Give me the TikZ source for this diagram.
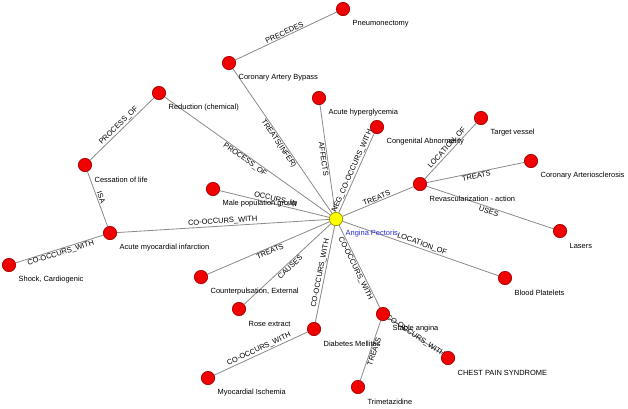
\documentclass[tikz,border=0pt]{standalone}
\usepackage{fontspec}
\setmainfont{Liberation Sans}
\usepackage{xcolor}
\usepackage{tikz}
\usetikzlibrary{positioning,calc,backgrounds}
\definecolor{rojo}{HTML}{F00000}
\definecolor{rojoborde}{HTML}{A00000}
\definecolor{amarillo}{HTML}{FFFF00}
\definecolor{amarilloborde}{HTML}{8C8C00}
\definecolor{gris}{HTML}{8A8A8A}
\definecolor{azul}{HTML}{2A2AD8}
\tikzset{
  nodo/.style={circle,draw=rojoborde,fill=rojo,line width=0.5pt,minimum size=10pt,inner sep=0pt,label distance=0pt},
  nodocentral/.style={nodo,draw=amarilloborde,fill=amarillo},
  rotulo/.style={font=\fontsize{5.6}{6.5}\selectfont,inner sep=0pt,xshift=1.8pt,yshift=-10.9pt},
  arista/.style={draw=gris,line width=0.6pt},
  etiqueta/.style={font=\fontsize{5.6}{6.5}\selectfont,sloped,midway,inner sep=0.6pt},
  encima/.style={anchor=center},
}

\begin{document}
\begin{tikzpicture}[x=0.75pt,y=-0.75pt]
  \useasboundingbox (0,0) rectangle (628,408);
  % centro
  \node[nodocentral,label={[rotulo,text=azul]right:Angina Pectoris}] (angina) at (336,219) {};
  % arriba
  \node[nodo,label={[rotulo]right:Pneumonectomy}] (pneumo) at (343,9) {};
  \node[nodo,label={[rotulo]right:Coronary Artery Bypass}] (bypass) at (229,63) {};
  \node[nodo,label={[rotulo]right:Acute hyperglycemia}] (hiperg) at (319,98) {};
  \node[nodo,label={[rotulo]right:Congenital Abnormality}] (congen) at (377,127) {};
  % derecha
  \node[nodo,label={[rotulo]right:Revascularization - action}] (revasc) at (420,184) {};
  \node[nodo,label={[rotulo]right:Target vessel}] (target) at (481,118) {};
  \node[nodo,label={[rotulo]right:Coronary Arteriosclerosis}] (arterio) at (531,161) {};
  \node[nodo,label={[rotulo]right:Lasers}] (lasers) at (560,231) {};
  \node[nodo,label={[rotulo]right:Blood Platelets}] (plaquetas) at (505,278) {};
  % abajo
  \node[nodo,label={[rotulo]right:Stable angina}] (estable) at (383,314) {};
  \node[nodo,label={[rotulo]right:CHEST PAIN SYNDROME}] (chest) at (448,358) {};
  \node[nodo,label={[rotulo]right:Trimetazidine}] (trimeta) at (358,387) {};
  \node[nodo,label={[rotulo]right:Diabetes Mellitus}] (diabetes) at (314,329) {};
  \node[nodo,label={[rotulo]right:Myocardial Ischemia}] (isquemia) at (208,378) {};
  \node[nodo,label={[rotulo]right:Rose extract}] (rosa) at (239,309) {};
  \node[nodo,label={[rotulo]right:{Counterpulsation, External}}] (contra) at (201,277) {};
  % izquierda
  \node[nodo,label={[rotulo]right:Acute myocardial infarction}] (infarto) at (110,233) {};
  \node[nodo,label={[rotulo]right:{Shock, Cardiogenic}}] (shock) at (9,265) {};
  \node[nodo,label={[rotulo]right:Cessation of life}] (cese) at (85,165) {};
  \node[nodo,label={[rotulo]right:Reduction (chemical)}] (reduccion) at (159,93) {};
  \node[nodo,label={[rotulo]right:Male population group}] (varones) at (213,189) {};
  % aristas
  \begin{scope}[on background layer]
    \foreach \a/\b/\t/\lado in {
      bypass/pneumo/PRECEDES/above,
      bypass/angina/TREATS(INFER)/below,
      reduccion/angina/PROCESS\_OF/below,
      hiperg/angina/AFFECTS/below,
      angina/congen/NEG\_CO-OCCURS\_WITH/above,
      angina/revasc/TREATS/above,
      revasc/target/LOCATION\_OF/above,
      revasc/arterio/TREATS/below,
      revasc/lasers/USES/below,
      angina/plaquetas/LOCATION\_OF/above,
      angina/estable/CO-OCCURS\_WITH/below,
      estable/chest/CO-OCCURS\_WITH/encima,
      trimeta/estable/TREATS/below,
      diabetes/angina/CO-OCCURS\_WITH/above,
      isquemia/diabetes/CO-OCCURS\_WITH/above,
      rosa/angina/CAUSES/below,
      contra/angina/TREATS/below,
      infarto/angina/CO-OCCURS\_WITH/above,
      varones/angina/OCCURS\_IN/above,
      shock/infarto/CO-OCCURS\_WITH/below,
      cese/infarto/ISA/above,
      cese/reduccion/PROCESS\_OF/above}
      \draw[arista] (\a) -- node[etiqueta,\lado] {\t} (\b);
  \end{scope}
\end{tikzpicture}
\end{document}
